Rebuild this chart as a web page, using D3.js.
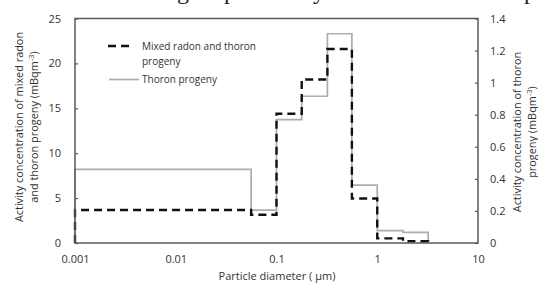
<!DOCTYPE html>
<html>
<head>
<meta charset="utf-8">
<script src="https://cdn.jsdelivr.net/npm/d3@7"></script>
<style>
  html, body { margin: 0; padding: 0; background: #fff; }
  svg { display: block; font-family: "Open Sans", sans-serif; }
</style>
</head>
<body>
<div id="chart"></div>
<script>
// bin edges (µm) and step values
const binEdges   = [0.001, 0.056, 0.1, 0.178, 0.32, 0.56, 1.0, 1.8, 3.2];
const mixedVals  = [3.67, 3.15, 14.4, 18.2, 21.6, 4.95, 0.52, 0.19];      // mBq m-3, left axis
const thoronVals = [0.459, 0.205, 0.77, 0.915, 1.305, 0.361, 0.077, 0.066]; // mBq m-3, right axis
const xTicks     = [0.001, 0.01, 0.1, 1, 10];
const xTickText  = ['0.001', '0.01', '0.1', '1', '10'];
const yLeftTicks  = [0, 5, 10, 15, 20, 25];
const yRightTicks = [0, 0.2, 0.4, 0.6, 0.8, 1, 1.2, 1.4];

const W = 538, H = 285;
const m = { left: 75, right: 478, top: 18.5, bottom: 243 };

const svg = d3.select('#chart').append('svg')
  .attr('width', W).attr('height', H);

const x  = d3.scaleLog().domain([0.001, 10]).range([m.left, m.right]);
const yL = d3.scaleLinear().domain([0, 25]).range([m.bottom, m.top]);
const yR = d3.scaleLinear().domain([0, 1.4]).range([m.bottom, m.top]);

// cut-off caption descenders from the page above
const capChars = [['g', 177], ['p', 224], ['y', 313], ['p', 524]];
capChars.forEach(([c, cx]) => {
  svg.append('text')
    .attr('x', cx).attr('y', -1)
    .attr('font-family', '"Liberation Serif", serif')
    .attr('font-size', 24).attr('fill', '#222')
    .text(c);
});

// step path from bins
function stepPts(vals, y) {
  const pts = [[x(binEdges[0]), y(0)]];
  vals.forEach((v, i) => {
    pts.push([x(binEdges[i]), y(v)]);
    pts.push([x(binEdges[i + 1]), y(v)]);
  });
  pts.push([x(binEdges[vals.length]), y(0)]);
  return pts;
}
const line = d3.line();

svg.append('path')
  .attr('d', line(stepPts(thoronVals, yR)))
  .attr('fill', 'none')
  .attr('stroke', '#adadad')
  .attr('stroke-width', 1.7);

svg.append('path')
  .attr('d', line(stepPts(mixedVals, yL)))
  .attr('fill', 'none')
  .attr('stroke', '#111')
  .attr('stroke-width', 2.4)
  .attr('stroke-dasharray', '8,5');

// frame
svg.append('rect')
  .attr('x', m.left).attr('y', m.top)
  .attr('width', m.right - m.left).attr('height', m.bottom - m.top)
  .attr('fill', 'none')
  .attr('stroke', '#5a5a5a')
  .attr('stroke-width', 1.5);

// axes
const gL = svg.append('g').attr('transform', `translate(${m.left},0)`)
  .call(d3.axisLeft(yL).tickValues(yLeftTicks).tickSize(-3).tickPadding(14));
const gR = svg.append('g').attr('transform', `translate(${m.right},0)`)
  .call(d3.axisRight(yR).tickValues(yRightTicks).tickSize(-3).tickPadding(12)
    .tickFormat(d => d3.format('~g')(d)));
const gX = svg.append('g').attr('transform', `translate(0,${m.bottom})`)
  .call(d3.axisBottom(x).tickValues(xTicks).tickSize(0).tickPadding(12)
    .tickFormat((d, i) => xTickText[i]));

[gL, gR, gX].forEach(g => {
  g.select('.domain').remove();
  g.selectAll('.tick line').attr('stroke', '#5a5a5a').attr('stroke-width', 1.2);
  g.selectAll('.tick text')
    .attr('font-family', '"Open Sans", sans-serif')
    .attr('font-size', 11).attr('fill', '#333');
});

// axis titles
const lt = svg.append('text')
  .attr('transform', 'translate(23,127) rotate(-90)')
  .attr('text-anchor', 'middle')
  .attr('font-size', 10.9).attr('fill', '#333');
lt.append('tspan').attr('x', 0).attr('dy', 0).text('Activity concentration of mixed radon');
const lt2 = lt.append('tspan').attr('x', 0).attr('dy', 15).text('and thoron progeny (mBqm');
lt2.append('tspan').attr('font-size', 7.5).attr('dy', -4).text('-3');
lt.append('tspan').attr('dy', 4).text(')');

const rt = svg.append('text')
  .attr('transform', 'translate(521,132) rotate(-90)')
  .attr('text-anchor', 'middle')
  .attr('font-size', 10.9).attr('fill', '#333');
rt.append('tspan').attr('x', 0).attr('dy', 0).text('Activity concentration of thoron');
rt.append('tspan').attr('x', 0).attr('dy', 15).text('progeny (mBqm');
rt.append('tspan').attr('font-size', 7.5).attr('dy', -4).text('-3');
rt.append('tspan').attr('dy', 4).text(')');

svg.append('text')
  .attr('x', 277).attr('y', 280)
  .attr('text-anchor', 'middle')
  .attr('font-size', 11).attr('fill', '#333')
  .text('Particle diameter ( \u00b5m)');

// legend
const lg = svg.append('g');
lg.append('line')
  .attr('x1', 108).attr('x2', 134).attr('y1', 46).attr('y2', 46)
  .attr('stroke', '#111').attr('stroke-width', 2.4)
  .attr('stroke-dasharray', '8,5');
lg.append('text').attr('x', 142).attr('y', 49.5)
  .attr('font-size', 10).attr('fill', '#333').text('Mixed radon and thoron');
lg.append('text').attr('x', 142).attr('y', 65)
  .attr('font-size', 10).attr('fill', '#333').text('progeny');
lg.append('line')
  .attr('x1', 109).attr('x2', 139).attr('y1', 79.5).attr('y2', 79.5)
  .attr('stroke', '#adadad').attr('stroke-width', 1.7);
lg.append('text').attr('x', 142).attr('y', 83)
  .attr('font-size', 10).attr('fill', '#333').text('Thoron progeny');
</script>
</body>
</html>
